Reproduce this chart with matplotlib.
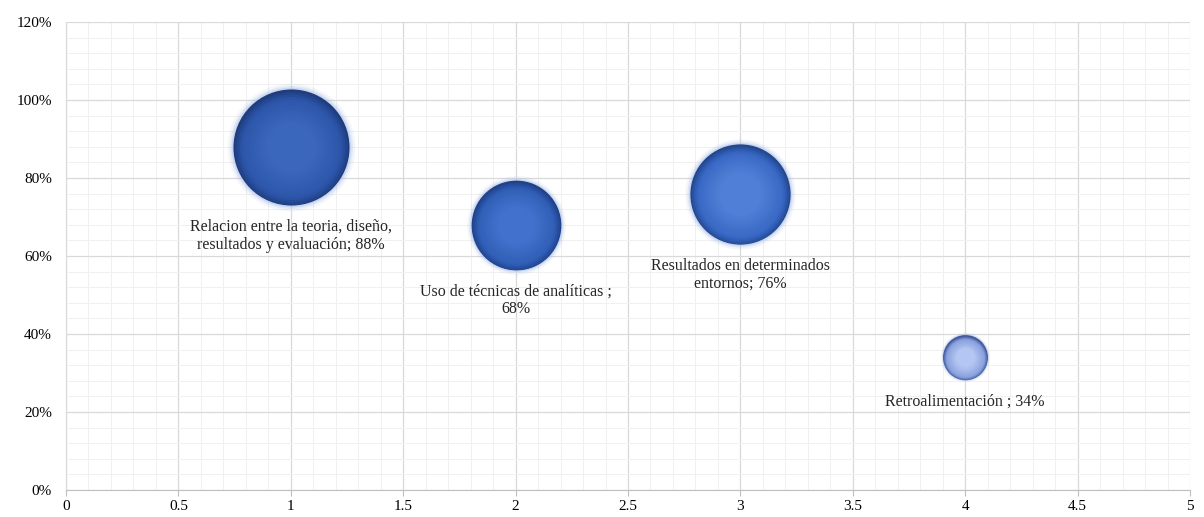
import numpy as np
import matplotlib
matplotlib.use('Agg')
import matplotlib.pyplot as plt
from matplotlib.ticker import MultipleLocator, FuncFormatter
from matplotlib.colors import to_rgb

plt.rcParams['font.family'] = ['Liberation Serif', 'DejaVu Serif']

# datos
xs = [1, 2, 3, 4]
ys = [0.88, 0.68, 0.76, 0.34]
sizes = [88, 68, 76, 34]   # tamaño burbuja (representa el ancho)
labels = ['Relacion entre la teoria, diseño,\nresultados y evaluación; 88%',
          'Uso de técnicas de analíticas ;\n68%',
          'Resultados en determinados\nentornos; 76%',
          'Retroalimentación ; 34%']

# colores de cada burbuja: (borde, cuerpo, brillo)
cols = [('#1f3d7e', '#2a53a6', '#3a66bc'),
        ('#21418a', '#2d5bb2', '#4171cc'),
        ('#24488f', '#3464c0', '#4f7fd6'),
        ('#43579a', '#7f98d8', '#b4c6f2')]

fig = plt.figure(figsize=(12.04, 5.17), dpi=100)
ax = fig.add_axes([0.0548, 0.0522, 0.9336, 0.9052])

ax.set_xlim(0, 5)
ax.set_ylim(0, 1.2)
ax.xaxis.set_major_locator(MultipleLocator(0.5))
ax.xaxis.set_minor_locator(MultipleLocator(0.1))
ax.yaxis.set_major_locator(MultipleLocator(0.2))
ax.yaxis.set_minor_locator(MultipleLocator(0.04))
ax.yaxis.set_major_formatter(FuncFormatter(lambda v, p: '%d%%' % round(v * 100)))
ax.xaxis.set_major_formatter(FuncFormatter(lambda v, p: ('%g' % v)))
ax.grid(True, which='major', color='#d9d9d9', lw=0.9)
ax.grid(True, which='minor', color='#f0f0f0', lw=0.7)
ax.set_axisbelow(True)
for s in ['top', 'right']:
    ax.spines[s].set_visible(False)
ax.spines['left'].set_color('#d9d9d9')
ax.spines['bottom'].set_color('#bfbfbf')
ax.tick_params(axis='x', which='major', length=4, color='#bfbfbf', labelsize=11, pad=3)
ax.tick_params(axis='y', which='major', length=0, labelsize=11, pad=10)
ax.tick_params(which='minor', length=0)

k = 0.95  # puntos de diámetro por unidad de tamaño
for i in range(len(xs)):
    d = k * sizes[i]
    edge, body, hi = cols[i]
    # halo suave
    for g, a in [(1.10, 0.12), (1.06, 0.2), (1.03, 0.35)]:
        ax.scatter(xs[i], ys[i], s=(d * g) ** 2, color='#9fb6e6', alpha=a, lw=0, zorder=3)
    ax.scatter(xs[i], ys[i], s=d ** 2, color=edge, lw=0, zorder=4)
    # degradado interior
    c0 = np.array(to_rgb(body))
    c1 = np.array(to_rgb(hi))
    ce = np.array(to_rgb(edge))
    n = 14
    for j in range(n):
        t = j / (n - 1)
        dd = d * (0.97 - 0.55 * t)
        off = -0.004 * (1 - t) * sizes[i] / 88
        if j < 3:
            c = ce * (1 - (j + 1) / 3) + c0 * ((j + 1) / 3)
        else:
            c = c0 * (1 - t) + c1 * t
        ax.scatter(xs[i], ys[i] + off, s=dd ** 2, color=c, lw=0, zorder=5 + j * 0.01)
    ax.annotate(labels[i], (xs[i], ys[i]), xytext=(0, -(d / 2 + 10)),
                textcoords='offset points', ha='center', va='top',
                fontsize=11.5, linespacing=1.15, color='#262626', zorder=10)

fig.savefig('out.png', dpi=100)
